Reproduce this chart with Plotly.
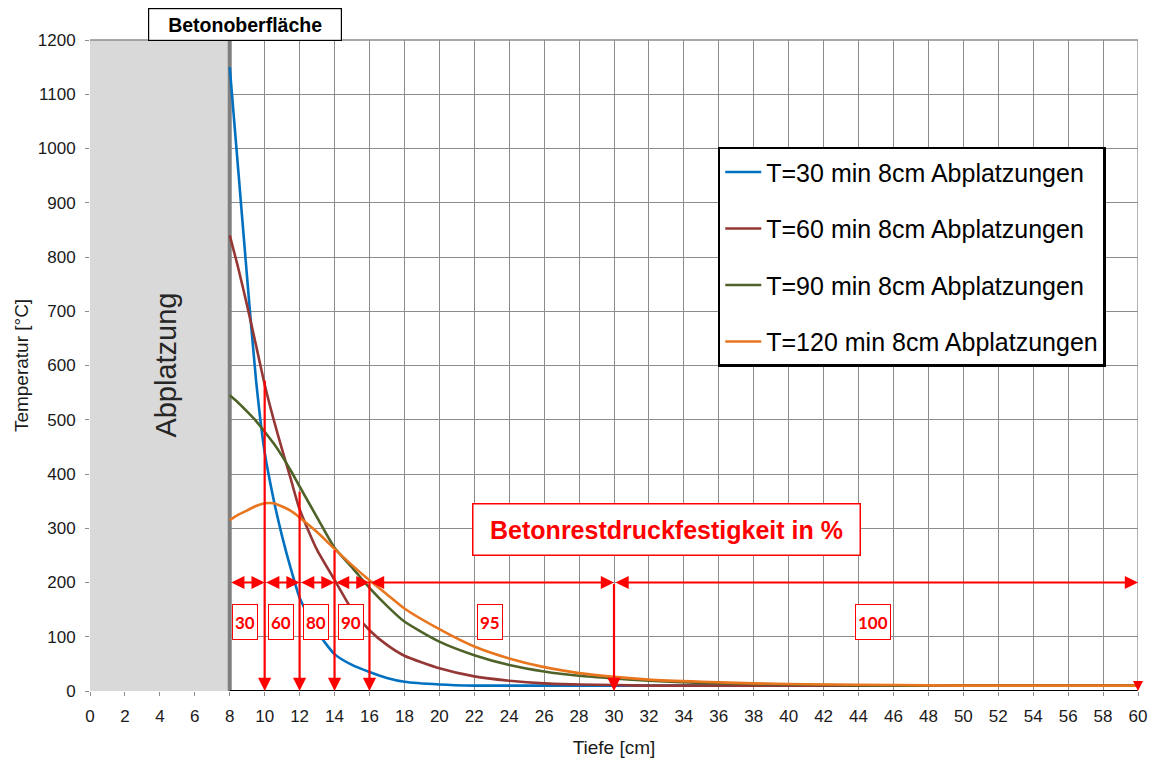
import plotly.graph_objects as go

# Temperaturverlauf über die Tiefe (8 cm Abplatzungen)
depth = [8, 8.5, 9, 9.5, 10, 10.5, 11, 11.5, 12, 13, 14, 15, 16, 17, 18, 20, 22, 24, 26,
         28, 30, 32, 35, 38, 42, 46, 50, 55, 60]
temp_30 = [1150, 955, 760, 575, 440, 355, 285, 225, 172, 110, 68, 48, 35, 24, 17, 12, 10, 10, 10,
           10, 10, 10, 10, 10, 10, 10, 10, 10, 10]
temp_60 = [840, 778, 710, 638, 565, 502, 445, 390, 335, 260, 205, 150, 112, 85, 65, 42, 27, 19, 14,
           12, 11, 10, 10, 10, 10, 10, 10, 10, 10]
temp_90 = [545, 531, 515, 498, 478, 457, 433, 406, 377, 320, 264, 228, 190, 157, 128, 91, 66, 48, 36,
           28, 23, 19, 15, 13, 11, 10, 10, 10, 10]
temp_120 = [315, 325, 333, 341, 346, 346, 340, 332, 320, 293, 262, 232, 204, 178, 152, 114, 82, 60, 44,
            33, 26, 21, 17, 14, 12, 11, 10, 10, 10]

series_names = ["T=30 min 8cm Abplatzungen", "T=60 min 8cm Abplatzungen",
                "T=90 min 8cm Abplatzungen", "T=120 min 8cm Abplatzungen"]
series_colors = ["#0070C0", "#953735", "#4F6228", "#E8761F"]

# Restdruckfestigkeit: Zonengrenzen und Beschriftungen
zone_bounds = [8, 10, 12, 14, 16, 30, 60]
zone_level = 200
drop_x = [10, 12, 14, 16, 30]
drop_top = [575, 370, 262, 205, 200]
strength_labels = ["30", "60", "80", "90", "95", "100"]
strength_x = [8.87, 10.93, 12.94, 14.94, 22.9, 44.8]
strength_y = 128

RED = "#FF0000"
FONT = "Liberation Sans, Arial, sans-serif"
GRID = "#8C8C8C"

fig = go.Figure()
for i, (name, color, ys) in enumerate(zip(series_names, series_colors,
                                          [temp_30, temp_60, temp_90, temp_120])):
    fig.add_trace(go.Scatter(
        x=depth, y=ys, name=name, mode="lines", legendgroup=f"g{i}",
        line=dict(color=color, width=2.6, shape="spline", smoothing=0.6),
    ))

shapes = [
    # Abgeplatzter Bereich
    dict(type="rect", xref="x", yref="y", x0=0, x1=8, y0=0, y1=1200,
         fillcolor="#D9D9D9", line=dict(width=0), layer="between"),
    dict(type="line", xref="x", yref="y", x0=8, x1=8, y0=0, y1=1200,
         line=dict(color="#7F7F7F", width=4), layer="between"),
    # Achslinie der Betonseite
    dict(type="line", xref="x", yref="y", x0=8, x1=60, y0=0, y1=0,
         line=dict(color="#000000", width=2), layer="above"),
    # Rahmen oben / rechts
    dict(type="line", xref="x", yref="paper", x0=60, x1=60, y0=0, y1=1,
         line=dict(color=GRID, width=1.3)),
    dict(type="line", xref="x", yref="paper", x0=0, x1=60, y0=1, y1=1,
         line=dict(color=GRID, width=1.3)),
]

annotations = []
# Doppelpfeile der Zonen
for a, b in zip(zone_bounds[:-1], zone_bounds[1:]):
    annotations.append(dict(
        x=b, y=zone_level, ax=a, ay=zone_level, xref="x", yref="y", axref="x", ayref="y",
        text="", showarrow=True, arrowside="end+start", arrowhead=2, arrowsize=1.2,
        arrowwidth=2.2, arrowcolor=RED, standoff=0, startstandoff=0))
# Senkrechte Pfeile zur Oberfläche
for xv, top in zip(drop_x, drop_top):
    annotations.append(dict(
        x=xv, y=0, ax=xv, ay=top, xref="x", yref="y", axref="x", ayref="y",
        text="", showarrow=True, arrowhead=2, arrowsize=1.2, arrowwidth=2.2,
        arrowcolor=RED, standoff=0))
annotations.append(dict(
    x=60, y=0, ax=60, ay=14, xref="x", yref="y", axref="x", ayref="y",
    text="", showarrow=True, arrowhead=2, arrowsize=1.0, arrowwidth=2,
    arrowcolor=RED, standoff=0))

for lab, xv in zip(strength_labels, strength_x):
    annotations.append(dict(
        x=xv, y=strength_y, xref="x", yref="y", text=f"<b>{lab}</b>", showarrow=False,
        font=dict(family="Lato, Open Sans, sans-serif", size=17, color=RED),
        bgcolor="white", bordercolor=RED, borderwidth=1, borderpad=2, height=30))

annotations.append(dict(
    x=33.0, y=297, xref="x", yref="y", text="<b>Betonrestdruckfestigkeit in %</b>",
    showarrow=False, font=dict(family=FONT, size=25, color=RED),
    bgcolor="white", bordercolor=RED, borderwidth=1.5, width=384, height=48))

annotations.append(dict(
    x=4.3, y=600, xref="x", yref="y", text="Abplatzung", textangle=-90, showarrow=False,
    font=dict(family=FONT, size=29, color="#262626")))

annotations.append(dict(
    x=8.87, y=1.0, xref="x", yref="paper", yanchor="bottom", yshift=-1,
    text="<b>Betonoberfläche</b>", showarrow=False,
    font=dict(family=FONT, size=19.5, color="#000000"),
    bgcolor="white", bordercolor="#000000", borderwidth=1.2, width=190, height=29))

fig.update_layout(
    width=1153, height=762,
    margin=dict(l=90, r=15, t=40, b=71, autoexpand=False),
    paper_bgcolor="white", plot_bgcolor="white",
    font=dict(family=FONT, size=17, color="#1A1A1A"),
    showlegend=True,
    legend=dict(
        x=0.599, y=0.836, xanchor="left", yanchor="top",
        bgcolor="white", bordercolor="#000000", borderwidth=2.5,
        font=dict(family=FONT, size=25, color="#000000"),
        tracegroupgap=21, itemwidth=36,
    ),
    shapes=shapes,
    annotations=annotations,
)

fig.update_xaxes(
    range=[0, 60], tick0=0, dtick=2, showgrid=True, gridcolor=GRID, gridwidth=1.3,
    zeroline=False, showline=False, ticks="outside", ticklen=4, tickcolor=GRID,
    ticklabelstandoff=6, automargin=False,
    tickfont=dict(size=17), title=dict(text="Tiefe [cm]", font=dict(size=19), standoff=15),
)
fig.update_yaxes(
    range=[0, 1200], tick0=0, dtick=100, showgrid=True, gridcolor=GRID, gridwidth=1.3,
    zeroline=False, showline=False, ticks="outside", ticklen=4, tickcolor=GRID,
    ticklabelstandoff=6, automargin=False,
    tickfont=dict(size=17), title=dict(text="Temperatur [°C]", font=dict(size=19), standoff=4),
)

fig.write_html("out.html")
